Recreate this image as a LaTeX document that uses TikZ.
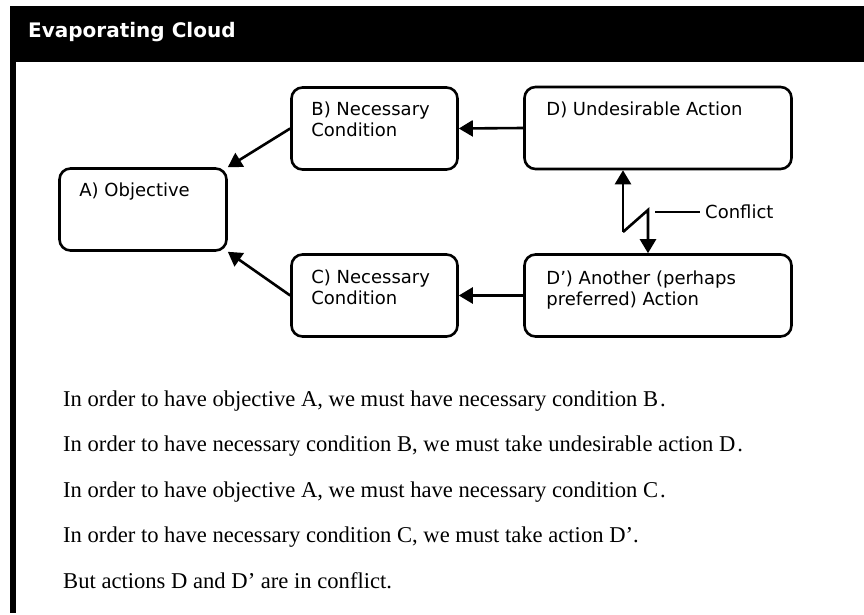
\documentclass[tikz,border=0pt]{standalone}
\usepackage{fontspec}
\setmainfont{Liberation Serif}
\newfontfamily\boxfont{DejaVu Sans}
\usetikzlibrary{arrows.meta}

\tikzset{
  cloudbox/.style={draw=black, line width=2.6pt, rounded corners=11pt,
    inner sep=0pt, minimum height=82pt},
  boxtext/.style={inner sep=0pt, anchor=base west,
    font=\boxfont\fontsize{18}{21}\selectfont, align=left},
  arr/.style={line width=2.6pt, -{Triangle[length=14pt,width=16pt]}},
  plainline/.style={line width=2.6pt},
  statement/.style={inner sep=0pt, anchor=base west,
    font=\fontsize{22.6}{26}\selectfont},
}

\newcommand{\twolines}[2]{\parbox[t]{240pt}{\fontsize{18}{21}\selectfont\raggedright #1\\#2}}
\newcommand{\sq}{{\char"27}}

\begin{document}
\begin{tikzpicture}[x=1pt,y=-1pt]
  \useasboundingbox (0,0) rectangle (864,615);
  \fill[white] (0,0) rectangle (864,615);

  % frame: title bar and left rule
  \fill[black] (10,6) rectangle (864,62);
  \fill[black] (10,62) rectangle (16,613);
  \node[inner sep=0pt, anchor=base west, text=white,
        font=\boxfont\bfseries\fontsize{20}{24}\selectfont] (title) at (28,37.5) {Evaporating Cloud};

  % the five boxes of the cloud
  \node[cloudbox, minimum width=167pt] (A) at (143,209.5) {};
  \node[cloudbox, minimum width=166pt] (B) at (374.5,128.5) {};
  \node[cloudbox, minimum width=166pt] (C) at (374.5,295.5) {};
  \node[cloudbox, minimum width=267pt] (D) at (658,128) {};
  \node[cloudbox, minimum width=267pt] (Dp) at (658,295.5) {};

  \node[boxtext] (At) at ([shift={(21,29.5)}]A.north west) {A) Objective};
  \node[boxtext] (Bt) at ([shift={(21,29.5)}]B.north west) {\twolines{B) Necessary}{Condition}};
  \node[boxtext] (Ct) at ([shift={(21,30.5)}]C.north west) {\twolines{C) Necessary}{Condition}};
  \node[boxtext] (Dt) at ([shift={(23,29.5)}]D.north west) {D) Undesirable Action};
  \node[boxtext] (Dpt) at ([shift={(23,31)}]Dp.north west) {\twolines{D’) Another (perhaps}{preferred) Action}};

  % dependency arrows
  \draw[arr] (B.west) -- (A.north east);
  \draw[arr] (C.west) -- (A.south east);
  \draw[arr] (D.west) -- (B.east);
  \draw[arr] (Dp.west) -- (C.east);

  % conflict arrow with zigzag
  \coordinate (z1) at (623,232);
  \coordinate (z2) at (648,210);
  \draw[arr] (z1) -- (z1 |- D.south);
  \draw[arr, line join=miter] (z1) -- (z2) -- (z2 |- Dp.north);
  \node[inner sep=0pt, anchor=base west, font=\boxfont\fontsize{18}{21}\selectfont] (conf) at (705,218.5) {Conflict};
  \coordinate (cl) at (655,212);
  \draw[plainline] (cl) -- ([xshift=-5pt]cl -| conf.west);

  % statements of the cloud
  \node[statement] (s1) at (63,406) {In order to have objective A, we must have necessary condition B\kern2pt.};
  \node[statement] (s2) at (63,451.5) {In order to have necessary condition B, we must take undesirable action D\kern2pt.};
  \node[statement] (s3) at (63,497) {In order to have objective A, we must have necessary condition C\kern2pt.};
  \node[statement] (s4) at (63,542.5) {In order to have necessary condition C, we must take action D\sq.};
  \node[statement] (s5) at (63,588) {But actions D and D\sq{} are in conflict.};
\end{tikzpicture}
\end{document}
